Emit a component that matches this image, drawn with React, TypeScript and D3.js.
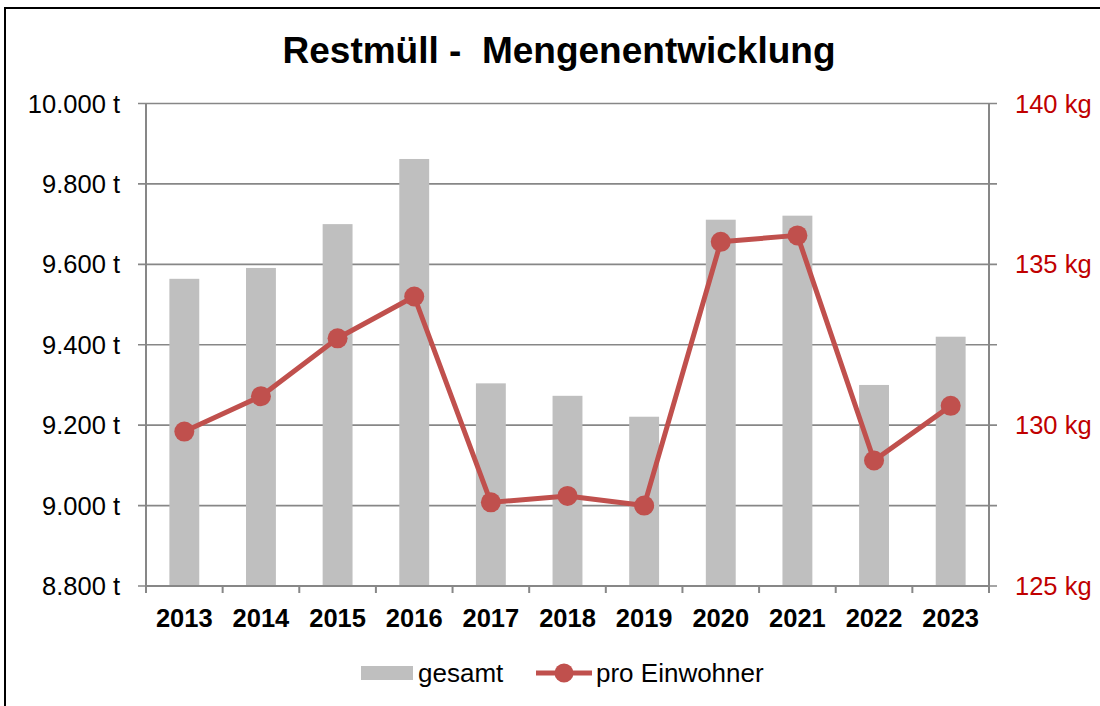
import React from "react";
import * as d3 from "d3";

const years = ["2013", "2014", "2015", "2016", "2017", "2018", "2019", "2020", "2021", "2022", "2023"];
const gesamt = [9564, 9591, 9700, 9862, 9304, 9273, 9221, 9711, 9721, 9300, 9420];
const proEinwohner = [129.8, 130.9, 132.7, 134.0, 127.6, 127.8, 127.5, 135.7, 135.9, 128.9, 130.6];
const leftTicks = [8800, 9000, 9200, 9400, 9600, 9800, 10000];
const rightTicks = [125, 130, 135, 140];
const title = "Restmüll -  Mengenentwicklung";
const legendLabels = ["gesamt", "pro Einwohner"];

const W = 1100;
const H = 706;
const plot = { left: 146, right: 989, top: 103.5, bottom: 586 };
const FONT = "'Liberation Sans', Arial, sans-serif";
const RED = "#C0504D";
const BAR = "#BFBFBF";
const GRID = "#878787";

const fmtT = (v: number) => d3.format(",")(v).replace(/,/g, ".") + " t";

export default function App() {
  const x = d3.scaleBand<string>().domain(years).range([plot.left, plot.right]).paddingInner(0).paddingOuter(0);
  const yL = d3.scaleLinear().domain([8800, 10000]).range([plot.bottom, plot.top]);
  const yR = d3.scaleLinear().domain([125, 140]).range([plot.bottom, plot.top]);
  const bw = x.bandwidth() * 0.39;
  const line = d3
    .line<number>()
    .x((_, i) => (x(years[i]) as number) + x.bandwidth() / 2)
    .y((d) => yR(d));

  return (
    <svg width={W} height={H} style={{ position: "absolute", left: 0, top: 0, background: "#fff" }} fontFamily={FONT}>
      <rect x={0} y={0} width={W} height={H} fill="#fff" />
      <rect x={5} y={8} width={1300} height={900} fill="none" stroke="#000" strokeWidth={2} />
      <text x={559} y={63} textAnchor="middle" fontSize={37} fontWeight="bold" fill="#000" style={{ whiteSpace: "pre" }} xmlSpace="preserve">
        {title}
      </text>
      {/* gridlines */}
      {leftTicks.map((t) => (
        <line key={"g" + t} x1={plot.left - 8} x2={plot.right + 8} y1={yL(t)} y2={yL(t)} stroke={GRID} strokeWidth={1.6} />
      ))}
      {/* bars */}
      {gesamt.map((v, i) => (
        <rect
          key={"b" + i}
          x={(x(years[i]) as number) + x.bandwidth() / 2 - bw / 2}
          y={yL(v)}
          width={bw}
          height={plot.bottom - yL(v)}
          fill={BAR}
        />
      ))}
      {/* axes */}
      <line x1={plot.left} x2={plot.left} y1={plot.top} y2={plot.bottom} stroke={GRID} strokeWidth={2} />
      <line x1={plot.right} x2={plot.right} y1={plot.top} y2={plot.bottom + 7} stroke={GRID} strokeWidth={2} />
      <line x1={plot.left} x2={plot.right} y1={plot.bottom} y2={plot.bottom} stroke={GRID} strokeWidth={2} />
      {years.map((yr, i) => (
        <line
          key={"xt" + i}
          x1={x(yr) as number}
          x2={x(yr) as number}
          y1={plot.bottom}
          y2={plot.bottom + 7}
          stroke={GRID}
          strokeWidth={2}
        />
      ))}
      {/* line series */}
      <path d={line(proEinwohner) || ""} fill="none" stroke={RED} strokeWidth={5} strokeLinejoin="round" />
      {proEinwohner.map((v, i) => (
        <circle key={"c" + i} cx={(x(years[i]) as number) + x.bandwidth() / 2} cy={yR(v)} r={10} fill={RED} />
      ))}
      {/* left labels */}
      {leftTicks.map((t) => (
        <text key={"lt" + t} x={120} y={yL(t) + 9} textAnchor="end" fontSize={25.5} fill="#000">
          {fmtT(t)}
        </text>
      ))}
      {/* right labels */}
      {rightTicks.map((t) => (
        <text key={"rt" + t} x={1015} y={yR(t) + 9} textAnchor="start" fontSize={25.5} fill="#C00000">
          {t + " kg"}
        </text>
      ))}
      {/* x labels */}
      {years.map((yr) => (
        <text
          key={"xl" + yr}
          x={(x(yr) as number) + x.bandwidth() / 2}
          y={627}
          textAnchor="middle"
          fontSize={25.5}
          fontWeight="bold"
          fill="#000"
        >
          {yr}
        </text>
      ))}
      {/* legend */}
      <rect x={361} y={666} width={52} height={14} fill={BAR} />
      <text x={418} y={682} fontSize={26} fill="#000">
        {legendLabels[0]}
      </text>
      <line x1={536} x2={592} y1={673} y2={673} stroke={RED} strokeWidth={5} />
      <circle cx={564} cy={673} r={9.5} fill={RED} />
      <text x={596} y={682} fontSize={26} fill="#000">
        {legendLabels[1]}
      </text>
    </svg>
  );
}
